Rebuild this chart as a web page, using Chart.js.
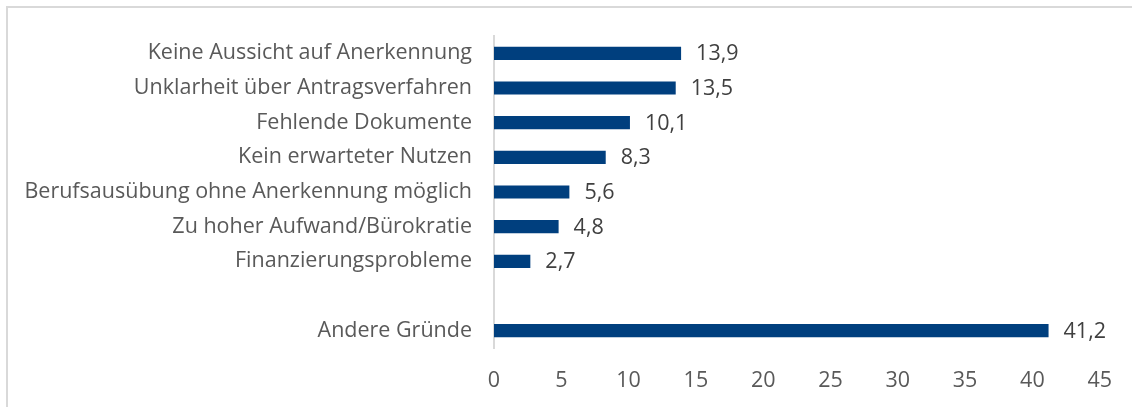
<!DOCTYPE html>
<html>
<head>
<meta charset="utf-8">
<script src="https://cdn.jsdelivr.net/npm/chart.js@4.4.1/dist/chart.umd.min.js"></script>
<style>
  html, body { margin: 0; padding: 0; background: #fff; overflow: hidden; }
  #wrap { position: relative; width: 1132px; height: 407px; }
  #frame { position: absolute; left: 6px; top: 6px; width: 1140px; height: 420px;
           border-top: 2px solid #d9d9d9; border-left: 2px solid #d9d9d9; }
  canvas { position: absolute; left: 0; top: 0; }
</style>
</head>
<body>
<div id="wrap">
  <div id="frame"></div>
  <canvas id="barChart" width="1132" height="407"></canvas>
</div>
<script>
const categories = [
  'Keine Aussicht auf Anerkennung',
  'Unklarheit über Antragsverfahren',
  'Fehlende Dokumente',
  'Kein erwarteter Nutzen',
  'Berufsausübung ohne Anerkennung möglich',
  'Zu hoher Aufwand/Bürokratie',
  'Finanzierungsprobleme',
  '',
  'Andere Gründe'
];
const values = [13.9, 13.5, 10.1, 8.3, 5.6, 4.8, 2.7, null, 41.2];
const xTicks = [0, 5, 10, 15, 20, 25, 30, 35, 40, 45];

const FONT = '"Open Sans", sans-serif';
const FSIZE = 21.5;

// draws the value next to each bar, German decimal comma
const valueLabels = {
  id: 'valueLabels',
  afterDatasetsDraw(chart) {
    let c = chart.ctx;
    let meta = chart.getDatasetMeta(0);
    c.save();
    c.font = FSIZE + 'px ' + FONT;
    c.fillStyle = '#404040';
    c.textAlign = 'left';
    c.textBaseline = 'middle';
    meta.data.forEach((bar, i) => {
      let v = values[i];
      if (v === null) return;
      c.fillText(v.toFixed(1).replace('.', ','), bar.x + 15, bar.y + 1);
    });
    c.restore();
  }
};

let ctx = document.getElementById('barChart').getContext('2d');
let chart = new Chart(ctx, {
  type: 'bar',
  data: {
    labels: categories,
    datasets: [{
      data: values,
      backgroundColor: '#003f7e',
      borderWidth: 0,
      barPercentage: 0.38,
      categoryPercentage: 1.0
    }]
  },
  options: {
    indexAxis: 'y',
    responsive: false,
    animation: false,
    layout: { padding: { left: 0, right: 32, top: 36, bottom: 0 } },
    plugins: { legend: { display: false }, tooltip: { enabled: false } },
    scales: {
      x: {
        min: 0,
        max: 45,
        afterBuildTicks: (scale) => { scale.ticks = xTicks.map(v => ({ value: v })); },
        afterFit: (scale) => { scale.height = 59; },
        grid: { display: false, drawTicks: false },
        border: { display: false },
        ticks: { padding: 20, color: '#595959', font: { family: FONT, size: FSIZE } }
      },
      y: {
        afterFit: (scale) => { scale.width = 494; },
        grid: { display: false, drawTicks: false },
        border: { display: true, color: '#d9d9d9', width: 2 },
        ticks: { padding: 22, color: '#595959', font: { family: FONT, size: FSIZE } }
      }
    }
  },
  plugins: [valueLabels]
});
</script>
</body>
</html>
